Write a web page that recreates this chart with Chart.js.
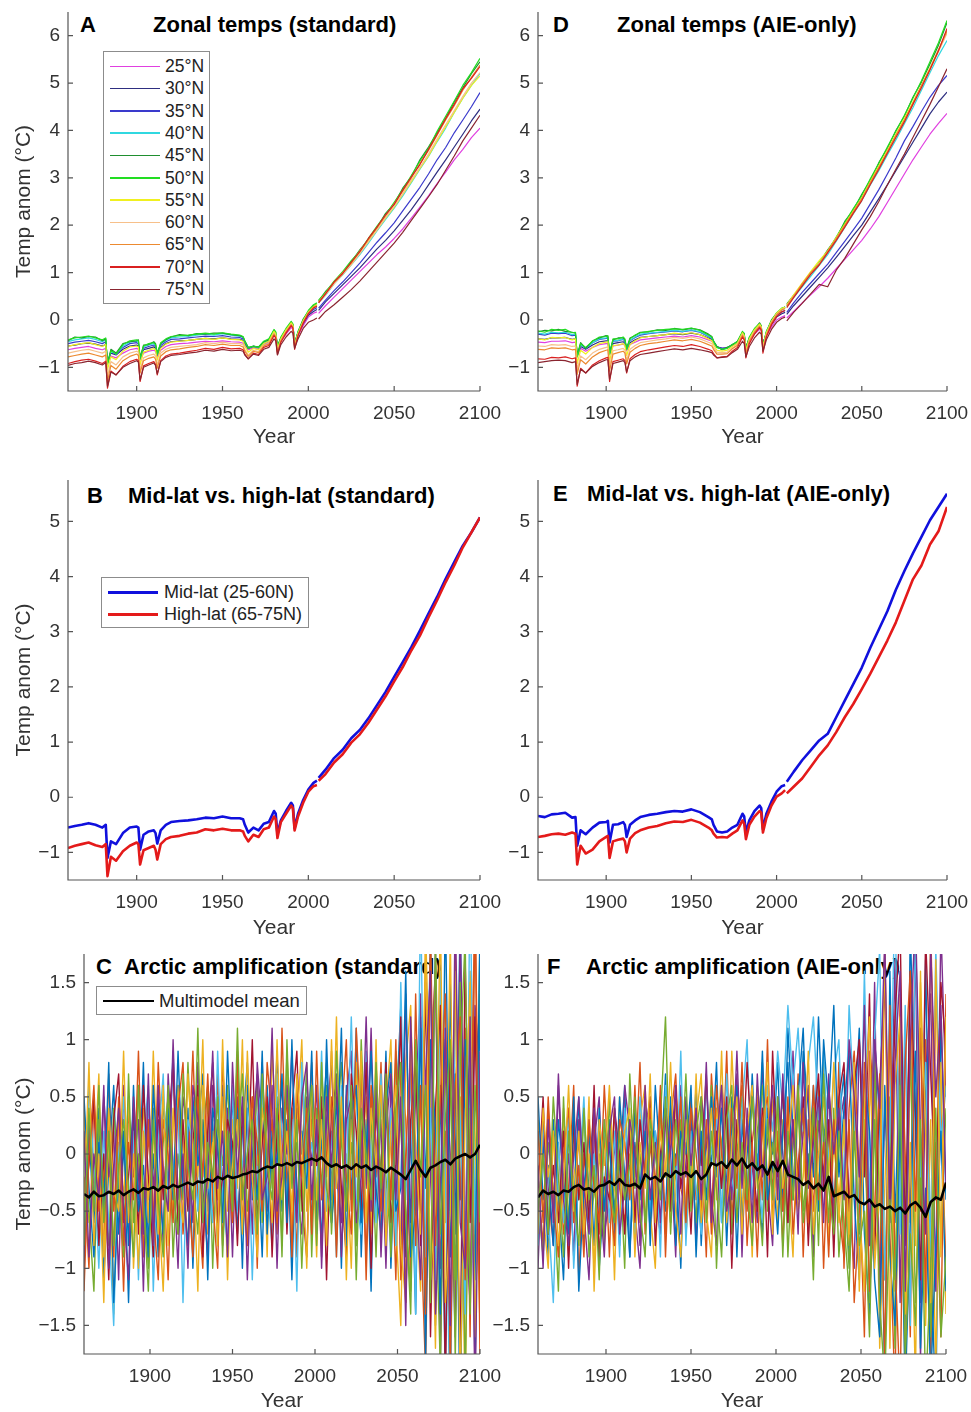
<!DOCTYPE html>
<html>
<head>
<meta charset="utf-8">
<script src="https://cdn.jsdelivr.net/npm/chart.js@4.4.1/dist/chart.umd.min.js"></script>
<style>
html, body { margin: 0; padding: 0; background: #fff; overflow: hidden; width: 971px; height: 1412px; }
.cv { position: absolute; z-index: 1; }
.ttl { position: absolute; z-index: 0; font: bold 22px "Liberation Sans", Arial, sans-serif; line-height: 22px; color: #000; white-space: nowrap; }
.leg { position: absolute; z-index: 2; background: #fff; border: 1px solid #8c8c8c; box-sizing: border-box; }
.leg span { position: absolute; white-space: nowrap; font-family: "Liberation Sans", Arial, sans-serif; color: #222; }
.leg i { position: absolute; display: block; }
</style>
</head>
<body>
<script>
// ---- shared axes ----
const xTicks = [1900, 1950, 2000, 2050, 2100];
const yTicksZonal = [-1, 0, 1, 2, 3, 4, 5, 6];
const yTicksMidHigh = [-1, 0, 1, 2, 3, 4, 5];
const yTicksArctic = [-1.5, -1, -0.5, 0, 0.5, 1, 1.5];

// years for zonal / mid-high panels (a break between 2005 and 2006)
const yearsZ = [
  1860, 1864, 1868, 1872, 1876, 1880, 1882, 1883, 1885, 1888, 1892, 1896,
  1900, 1901, 1902, 1904, 1907, 1910, 1911, 1912, 1914, 1917, 1920, 1925,
  1930, 1935, 1940, 1945, 1950, 1955, 1960, 1962, 1963, 1965, 1968, 1971,
  1974, 1977, 1980, 1981, 1982, 1984, 1987, 1990, 1991, 1992, 1994, 1997, 2000, 2003,
  2005, 2006, 2010, 2015, 2020, 2025, 2030, 2035, 2040, 2045, 2050,
  2055, 2060, 2065, 2070, 2075, 2080, 2085, 2090, 2095, 2100
];
const gapYear = 2005;

const latLabels = ['25°N', '30°N', '35°N', '40°N', '45°N', '50°N', '55°N', '60°N', '65°N', '70°N', '75°N'];
const latColors = ['#e040e0', '#2e2e80', '#3a3acc', '#30d8e0', '#1f8f2f', '#22dd22', '#f0f020', '#f7c08a', '#ec8a30', '#d92020', '#8a2530'];

// ---- A: zonal temps (standard) ----
const a25 = [-0.63,-0.6,-0.58,-0.56,-0.6,-0.63,-0.6,-0.92,-0.76,-0.8,-0.7,-0.63,
  -0.6,-0.62,-0.85,-0.7,-0.66,-0.64,-0.66,-0.78,-0.64,-0.56,-0.52,-0.5,
  -0.49,-0.47,-0.45,-0.46,-0.44,-0.46,-0.47,-0.49,-0.55,-0.63,-0.59,-0.62,
  -0.53,-0.48,-0.32,-0.36,-0.56,-0.45,-0.3,-0.16,-0.19,-0.48,-0.33,-0.12,0.06,0.14,
  0.17,0.14,0.3,0.48,0.66,0.84,1.02,1.2,1.38,1.54,1.72,
  1.92,2.15,2.38,2.62,2.88,3.12,3.38,3.6,3.85,4.05];
const a30 = [-0.55,-0.53,-0.5,-0.49,-0.51,-0.55,-0.52,-0.88,-0.7,-0.74,-0.62,-0.55,
  -0.53,-0.55,-0.8,-0.63,-0.6,-0.57,-0.6,-0.74,-0.58,-0.5,-0.46,-0.44,
  -0.43,-0.41,-0.39,-0.4,-0.38,-0.4,-0.41,-0.43,-0.5,-0.6,-0.56,-0.59,
  -0.5,-0.45,-0.28,-0.32,-0.55,-0.42,-0.26,-0.12,-0.15,-0.47,-0.3,-0.08,0.1,0.18,
  0.22,0.2,0.38,0.56,0.74,0.92,1.1,1.3,1.5,1.68,1.88,
  2.1,2.33,2.58,2.85,3.12,3.38,3.65,3.92,4.2,4.45];
const a35 = [-0.5,-0.47,-0.45,-0.43,-0.46,-0.5,-0.46,-0.9,-0.68,-0.72,-0.58,-0.5,
  -0.48,-0.5,-0.8,-0.6,-0.56,-0.53,-0.57,-0.72,-0.54,-0.46,-0.41,-0.4,
  -0.38,-0.36,-0.34,-0.35,-0.33,-0.36,-0.37,-0.4,-0.48,-0.6,-0.55,-0.58,
  -0.48,-0.43,-0.25,-0.3,-0.56,-0.4,-0.23,-0.08,-0.12,-0.48,-0.27,-0.05,0.13,0.22,
  0.26,0.25,0.42,0.62,0.8,1.0,1.2,1.42,1.64,1.84,2.05,
  2.3,2.55,2.8,3.08,3.38,3.64,3.95,4.22,4.5,4.8];
const a40 = [-0.46,-0.42,-0.4,-0.38,-0.41,-0.46,-0.42,-0.92,-0.66,-0.72,-0.55,-0.47,
  -0.45,-0.47,-0.82,-0.57,-0.53,-0.5,-0.54,-0.72,-0.51,-0.43,-0.38,-0.36,
  -0.35,-0.32,-0.3,-0.32,-0.29,-0.32,-0.34,-0.37,-0.45,-0.58,-0.56,-0.58,
  -0.47,-0.42,-0.23,-0.28,-0.57,-0.38,-0.2,-0.06,-0.1,-0.5,-0.26,-0.02,0.17,0.28,
  0.32,0.36,0.52,0.76,0.95,1.16,1.38,1.62,1.88,2.12,2.36,
  2.62,2.9,3.18,3.45,3.76,4.05,4.38,4.68,4.95,5.2];
const a45 = [-0.44,-0.36,-0.38,-0.35,-0.36,-0.44,-0.4,-0.92,-0.62,-0.7,-0.5,-0.46,
  -0.44,-0.42,-0.8,-0.53,-0.52,-0.46,-0.5,-0.7,-0.5,-0.42,-0.36,-0.31,
  -0.33,-0.29,-0.3,-0.28,-0.28,-0.31,-0.33,-0.36,-0.44,-0.58,-0.56,-0.57,
  -0.46,-0.42,-0.22,-0.26,-0.56,-0.38,-0.2,-0.05,-0.1,-0.52,-0.26,0.02,0.18,0.3,
  0.34,0.4,0.6,0.78,1.0,1.22,1.48,1.7,1.95,2.25,2.45,
  2.78,3.02,3.38,3.65,3.95,4.25,4.6,4.9,5.2,5.45];
const a50 = [-0.42,-0.38,-0.36,-0.34,-0.38,-0.42,-0.38,-0.95,-0.65,-0.72,-0.52,-0.44,
  -0.42,-0.44,-0.82,-0.55,-0.5,-0.48,-0.52,-0.72,-0.48,-0.4,-0.35,-0.33,
  -0.32,-0.3,-0.28,-0.3,-0.27,-0.3,-0.32,-0.35,-0.45,-0.6,-0.55,-0.58,
  -0.45,-0.4,-0.2,-0.25,-0.58,-0.36,-0.18,-0.03,-0.08,-0.5,-0.24,0,0.2,0.32,
  0.36,0.42,0.58,0.82,1.02,1.25,1.45,1.72,1.98,2.22,2.48,
  2.75,3.05,3.35,3.62,3.98,4.3,4.62,4.95,5.22,5.52];
const a55 = [-0.56,-0.52,-0.5,-0.48,-0.52,-0.56,-0.52,-1.05,-0.78,-0.84,-0.66,-0.57,
  -0.55,-0.57,-0.95,-0.68,-0.64,-0.6,-0.64,-0.85,-0.6,-0.51,-0.47,-0.45,
  -0.43,-0.41,-0.39,-0.41,-0.38,-0.41,-0.42,-0.45,-0.55,-0.68,-0.6,-0.63,
  -0.5,-0.45,-0.24,-0.29,-0.62,-0.4,-0.21,-0.06,-0.11,-0.54,-0.28,-0.02,0.17,0.28,
  0.33,0.38,0.55,0.78,0.97,1.18,1.42,1.66,1.9,2.15,2.38,
  2.65,2.92,3.2,3.46,3.78,4.08,4.38,4.68,4.95,5.15];
const a60 = [-0.7,-0.67,-0.64,-0.62,-0.66,-0.7,-0.66,-1.18,-0.88,-0.95,-0.78,-0.7,
  -0.66,-0.68,-1.05,-0.8,-0.75,-0.72,-0.76,-0.95,-0.7,-0.62,-0.58,-0.56,
  -0.54,-0.52,-0.48,-0.5,-0.47,-0.5,-0.5,-0.53,-0.62,-0.74,-0.64,-0.67,
  -0.54,-0.5,-0.28,-0.33,-0.66,-0.43,-0.24,-0.09,-0.14,-0.56,-0.3,-0.04,0.15,0.26,
  0.3,0.36,0.53,0.76,0.96,1.17,1.4,1.65,1.9,2.16,2.4,
  2.66,2.95,3.22,3.5,3.82,4.12,4.42,4.72,5.0,5.22];
const a65 = [-0.78,-0.75,-0.72,-0.7,-0.74,-0.78,-0.74,-1.3,-0.96,-1.04,-0.86,-0.77,
  -0.72,-0.75,-1.12,-0.86,-0.81,-0.78,-0.83,-1.02,-0.76,-0.67,-0.63,-0.61,
  -0.58,-0.56,-0.52,-0.54,-0.51,-0.54,-0.54,-0.57,-0.66,-0.77,-0.66,-0.69,
  -0.55,-0.51,-0.3,-0.35,-0.68,-0.44,-0.25,-0.1,-0.15,-0.58,-0.31,-0.05,0.15,0.27,
  0.3,0.38,0.56,0.8,1.0,1.2,1.46,1.7,1.95,2.2,2.45,
  2.72,3.0,3.3,3.58,3.9,4.22,4.52,4.85,5.12,5.38];
const a70 = [-0.92,-0.88,-0.85,-0.83,-0.87,-0.92,-0.87,-1.44,-1.08,-1.16,-0.98,-0.88,
  -0.83,-0.86,-1.3,-0.97,-0.92,-0.88,-0.94,-1.16,-0.86,-0.76,-0.72,-0.7,
  -0.67,-0.64,-0.6,-0.62,-0.58,-0.61,-0.6,-0.63,-0.72,-0.82,-0.7,-0.73,
  -0.58,-0.54,-0.33,-0.38,-0.73,-0.47,-0.28,-0.12,-0.17,-0.62,-0.33,-0.07,0.13,0.25,
  0.29,0.36,0.55,0.8,0.98,1.22,1.44,1.72,1.96,2.22,2.44,
  2.74,3.02,3.28,3.6,3.92,4.25,4.55,4.88,5.1,5.35];
const a75 = [-0.96,-0.92,-0.9,-0.87,-0.9,-0.95,-0.9,-1.4,-1.1,-1.16,-1.0,-0.92,
  -0.86,-0.89,-1.27,-1.0,-0.95,-0.91,-0.96,-1.14,-0.88,-0.79,-0.75,-0.73,
  -0.7,-0.68,-0.64,-0.66,-0.62,-0.65,-0.64,-0.66,-0.74,-0.82,-0.72,-0.75,
  -0.62,-0.58,-0.4,-0.44,-0.74,-0.52,-0.36,-0.24,-0.28,-0.6,-0.4,-0.18,-0.05,0.0,
  0.04,0.02,0.18,0.32,0.48,0.64,0.82,1.02,1.22,1.42,1.62,
  1.85,2.1,2.35,2.6,2.86,3.16,3.46,3.78,4.05,4.32];

// ---- D: zonal temps (AIE-only) ----
const d25 = [-0.47,-0.48,-0.45,-0.45,-0.44,-0.48,-0.47,-0.78,-0.6,-0.66,-0.58,-0.52,
  -0.5,-0.5,-0.74,-0.55,-0.53,-0.51,-0.54,-0.65,-0.52,-0.47,-0.42,-0.4,
  -0.38,-0.36,-0.34,-0.36,-0.33,-0.36,-0.42,-0.45,-0.5,-0.58,-0.6,-0.6,
  -0.54,-0.5,-0.35,-0.38,-0.57,-0.45,-0.3,-0.2,-0.22,-0.48,-0.33,-0.15,0.0,0.06,
  0.09,0.04,0.18,0.36,0.53,0.7,0.88,1.08,1.28,1.48,1.68,
  1.92,2.18,2.48,2.78,3.08,3.38,3.65,3.92,4.15,4.36];
const d30 = [-0.4,-0.41,-0.38,-0.38,-0.37,-0.41,-0.4,-0.76,-0.56,-0.62,-0.53,-0.46,
  -0.44,-0.44,-0.72,-0.5,-0.48,-0.46,-0.49,-0.62,-0.48,-0.42,-0.37,-0.35,
  -0.33,-0.31,-0.29,-0.31,-0.28,-0.31,-0.38,-0.41,-0.47,-0.57,-0.6,-0.59,
  -0.53,-0.48,-0.31,-0.35,-0.57,-0.42,-0.26,-0.15,-0.18,-0.5,-0.3,-0.1,0.06,0.13,
  0.16,0.12,0.3,0.5,0.7,0.9,1.1,1.32,1.55,1.78,2.0,
  2.28,2.56,2.85,3.15,3.45,3.75,4.05,4.35,4.6,4.81];
const d35 = [-0.3,-0.32,-0.28,-0.29,-0.28,-0.33,-0.32,-0.75,-0.52,-0.6,-0.48,-0.41,
  -0.39,-0.38,-0.7,-0.45,-0.44,-0.41,-0.45,-0.6,-0.44,-0.37,-0.32,-0.29,
  -0.27,-0.25,-0.23,-0.25,-0.22,-0.26,-0.35,-0.39,-0.46,-0.57,-0.6,-0.59,
  -0.52,-0.47,-0.28,-0.33,-0.58,-0.4,-0.23,-0.12,-0.16,-0.52,-0.28,-0.06,0.1,0.17,
  0.2,0.16,0.36,0.58,0.78,0.98,1.18,1.42,1.66,1.9,2.15,
  2.45,2.75,3.08,3.42,3.78,4.08,4.4,4.7,4.95,5.16];
const d40 = [-0.28,-0.3,-0.26,-0.27,-0.26,-0.31,-0.3,-0.78,-0.52,-0.6,-0.48,-0.4,
  -0.38,-0.37,-0.72,-0.44,-0.43,-0.4,-0.44,-0.62,-0.43,-0.36,-0.3,-0.28,
  -0.26,-0.24,-0.22,-0.24,-0.21,-0.25,-0.34,-0.38,-0.46,-0.58,-0.62,-0.6,
  -0.53,-0.47,-0.27,-0.31,-0.59,-0.38,-0.21,-0.1,-0.14,-0.53,-0.26,-0.04,0.12,0.21,
  0.24,0.28,0.47,0.7,0.92,1.15,1.38,1.66,1.95,2.24,2.52,
  2.85,3.15,3.48,3.8,4.14,4.48,4.85,5.22,5.58,5.9];
const d45 = [-0.25,-0.22,-0.23,-0.2,-0.24,-0.26,-0.28,-0.75,-0.48,-0.6,-0.44,-0.38,
  -0.33,-0.35,-0.7,-0.42,-0.38,-0.38,-0.42,-0.6,-0.38,-0.33,-0.26,-0.25,
  -0.21,-0.22,-0.18,-0.21,-0.18,-0.21,-0.3,-0.35,-0.44,-0.56,-0.63,-0.58,
  -0.53,-0.45,-0.26,-0.28,-0.58,-0.38,-0.2,-0.06,-0.12,-0.53,-0.26,0.0,0.14,0.22,
  0.28,0.34,0.52,0.72,1.0,1.2,1.48,1.72,2.08,2.32,2.65,
  2.95,3.32,3.62,4.0,4.3,4.7,5.02,5.4,5.8,6.28];
const d50 = [-0.23,-0.26,-0.2,-0.22,-0.2,-0.27,-0.26,-0.78,-0.5,-0.58,-0.45,-0.36,
  -0.35,-0.33,-0.72,-0.4,-0.4,-0.36,-0.4,-0.62,-0.4,-0.32,-0.27,-0.24,
  -0.22,-0.2,-0.19,-0.2,-0.17,-0.22,-0.32,-0.36,-0.45,-0.58,-0.62,-0.6,
  -0.52,-0.46,-0.24,-0.3,-0.6,-0.36,-0.18,-0.08,-0.13,-0.55,-0.24,-0.02,0.15,0.25,
  0.27,0.3,0.5,0.75,0.98,1.22,1.45,1.75,2.05,2.35,2.62,
  2.98,3.3,3.65,3.98,4.32,4.68,5.05,5.45,5.85,6.32];
const d55 = [-0.4,-0.42,-0.37,-0.38,-0.37,-0.42,-0.4,-0.92,-0.64,-0.72,-0.58,-0.5,
  -0.47,-0.46,-0.88,-0.54,-0.53,-0.5,-0.54,-0.75,-0.52,-0.44,-0.38,-0.35,
  -0.33,-0.31,-0.28,-0.3,-0.27,-0.31,-0.4,-0.44,-0.52,-0.64,-0.66,-0.64,
  -0.56,-0.49,-0.27,-0.33,-0.64,-0.4,-0.21,-0.09,-0.14,-0.57,-0.27,-0.03,0.14,0.24,
  0.27,0.32,0.53,0.78,1.02,1.25,1.46,1.74,2.02,2.3,2.58,
  2.92,3.25,3.58,3.92,4.25,4.6,4.95,5.32,5.7,6.1];
const d60 = [-0.55,-0.56,-0.52,-0.53,-0.52,-0.56,-0.55,-1.05,-0.76,-0.84,-0.7,-0.62,
  -0.58,-0.57,-0.98,-0.65,-0.63,-0.6,-0.64,-0.85,-0.62,-0.54,-0.48,-0.45,
  -0.42,-0.4,-0.37,-0.39,-0.36,-0.4,-0.47,-0.5,-0.58,-0.68,-0.69,-0.68,
  -0.59,-0.52,-0.3,-0.36,-0.68,-0.43,-0.24,-0.12,-0.17,-0.6,-0.3,-0.05,0.12,0.22,
  0.25,0.3,0.5,0.74,0.98,1.2,1.42,1.7,1.98,2.26,2.55,
  2.88,3.2,3.54,3.88,4.2,4.55,4.92,5.28,5.66,6.05];
const d65 = [-0.62,-0.63,-0.59,-0.6,-0.59,-0.63,-0.62,-1.15,-0.84,-0.93,-0.78,-0.69,
  -0.64,-0.63,-1.08,-0.72,-0.69,-0.66,-0.7,-0.93,-0.68,-0.6,-0.54,-0.5,
  -0.48,-0.45,-0.42,-0.44,-0.41,-0.45,-0.52,-0.55,-0.62,-0.72,-0.72,-0.71,
  -0.61,-0.54,-0.32,-0.38,-0.71,-0.45,-0.26,-0.13,-0.18,-0.63,-0.32,-0.06,0.11,0.21,
  0.24,0.3,0.5,0.76,1.0,1.18,1.45,1.72,2.0,2.28,2.56,
  2.9,3.22,3.55,3.9,4.22,4.58,4.95,5.3,5.7,6.1];
const d70 = [-0.82,-0.83,-0.79,-0.8,-0.78,-0.82,-0.8,-1.4,-1.02,-1.12,-0.95,-0.86,
  -0.8,-0.79,-1.3,-0.88,-0.85,-0.82,-0.86,-1.12,-0.82,-0.73,-0.67,-0.63,
  -0.6,-0.57,-0.54,-0.56,-0.52,-0.56,-0.62,-0.65,-0.71,-0.8,-0.78,-0.77,
  -0.66,-0.58,-0.36,-0.42,-0.8,-0.5,-0.3,-0.16,-0.21,-0.7,-0.36,-0.1,0.07,0.17,
  0.2,0.26,0.47,0.72,0.96,1.16,1.42,1.68,1.96,2.25,2.52,
  2.86,3.18,3.52,3.85,4.18,4.55,4.9,5.28,5.68,6.15];
const d75 = [-0.9,-0.88,-0.86,-0.85,-0.86,-0.9,-0.88,-1.36,-1.04,-1.12,-0.98,-0.9,
  -0.84,-0.84,-1.25,-0.92,-0.89,-0.86,-0.9,-1.1,-0.86,-0.78,-0.73,-0.7,
  -0.67,-0.64,-0.61,-0.63,-0.6,-0.63,-0.67,-0.69,-0.74,-0.8,-0.79,-0.78,
  -0.69,-0.62,-0.45,-0.5,-0.78,-0.56,-0.38,-0.26,-0.3,-0.66,-0.42,-0.2,-0.05,0.03,
  0.06,-0.02,0.16,0.35,0.55,0.75,0.7,1.05,1.3,1.6,1.9,
  2.18,2.5,2.85,3.18,3.5,3.85,4.2,4.55,4.92,5.3];

// ---- B / E: mid-lat vs high-lat ----
const mhLabels = ['Mid-lat (25-60N)', 'High-lat (65-75N)'];
const mhColors = ['#1010dd', '#e41a1a'];
const bMid = [-0.55,-0.52,-0.5,-0.47,-0.5,-0.55,-0.5,-1.1,-0.8,-0.85,-0.65,-0.55,
  -0.53,-0.55,-0.95,-0.68,-0.62,-0.6,-0.65,-0.84,-0.6,-0.5,-0.45,-0.43,
  -0.42,-0.4,-0.37,-0.38,-0.35,-0.38,-0.38,-0.4,-0.5,-0.64,-0.55,-0.6,
  -0.48,-0.45,-0.25,-0.3,-0.66,-0.42,-0.25,-0.1,-0.15,-0.56,-0.3,-0.05,0.14,0.26,
  0.3,0.35,0.5,0.71,0.86,1.07,1.22,1.43,1.67,1.91,2.18,
  2.45,2.72,3.02,3.33,3.63,3.96,4.26,4.56,4.8,5.07];
const bHigh = [-0.92,-0.88,-0.85,-0.82,-0.87,-0.9,-0.85,-1.43,-1.08,-1.15,-0.98,-0.88,
  -0.82,-0.85,-1.22,-0.96,-0.92,-0.88,-0.95,-1.13,-0.85,-0.76,-0.72,-0.7,
  -0.66,-0.64,-0.58,-0.6,-0.57,-0.6,-0.6,-0.62,-0.7,-0.8,-0.68,-0.72,
  -0.58,-0.55,-0.35,-0.4,-0.74,-0.45,-0.3,-0.15,-0.2,-0.6,-0.35,-0.1,0.1,0.2,
  0.22,0.3,0.42,0.63,0.78,0.99,1.14,1.35,1.59,1.83,2.1,
  2.36,2.66,2.93,3.26,3.57,3.9,4.2,4.53,4.8,5.07];
const eMid = [-0.34,-0.36,-0.31,-0.3,-0.28,-0.37,-0.36,-0.88,-0.6,-0.67,-0.55,-0.46,
  -0.45,-0.43,-0.82,-0.5,-0.49,-0.45,-0.5,-0.72,-0.5,-0.42,-0.36,-0.32,
  -0.3,-0.27,-0.25,-0.26,-0.22,-0.27,-0.36,-0.4,-0.5,-0.62,-0.64,-0.62,
  -0.55,-0.5,-0.3,-0.35,-0.64,-0.42,-0.25,-0.15,-0.2,-0.58,-0.3,-0.08,0.1,0.2,
  0.22,0.28,0.46,0.67,0.85,1.03,1.15,1.45,1.75,2.05,2.35,
  2.71,3.04,3.37,3.76,4.1,4.42,4.72,5.02,5.26,5.5];
const eHigh = [-0.72,-0.7,-0.67,-0.66,-0.68,-0.64,-0.66,-1.22,-0.88,-1.02,-0.95,-0.8,
  -0.72,-0.7,-1.1,-0.8,-0.77,-0.75,-0.8,-1.0,-0.75,-0.65,-0.6,-0.55,
  -0.52,-0.47,-0.44,-0.45,-0.41,-0.46,-0.55,-0.6,-0.66,-0.73,-0.72,-0.73,
  -0.66,-0.6,-0.42,-0.48,-0.76,-0.5,-0.35,-0.25,-0.28,-0.64,-0.38,-0.15,0.01,0.07,
  0.13,0.07,0.19,0.34,0.55,0.76,0.94,1.18,1.45,1.69,1.96,
  2.24,2.54,2.84,3.17,3.56,3.95,4.2,4.58,4.82,5.26];

// ---- C / F: Arctic amplification, individual models + mean ----
const yearsA = [
  1860,1863,1866,1869,1872,1875,1878,1881,1884,1887,1890,1893,1896,1899,
  1902,1905,1908,1911,1914,1917,1920,1923,1926,1929,1932,1935,1938,1941,1944,1947,
  1950,1953,1956,1959,1962,1965,1968,1971,1974,1977,1980,1983,1986,1989,1992,1995,1998,
  2001,2004,2007,2010,2013,2016,2019,2022,2025,2028,2031,2034,2037,
  2040,2043,2046,2049,2052,2055,2058,2061,2064,2067,2070,2073,2076,2079,2082,2085,2088,2091,2094,2097,2100
];
const modelColors = ['#0072bd', '#d95319', '#edb120', '#7e2f8e', '#77ac30', '#4dbeee', '#a2142f'];

const c1 = [-0.9,0.2,-0.6,0.4,-1.1,-0.1,0.6,-0.7,0.1,-1.3,0.3,-0.4,0.8,-0.8,
  0.0,-0.9,0.5,-0.3,0.9,-0.6,-0.1,0.4,-1.0,0.2,0.7,-0.5,0.3,-0.8,0.6,-0.2,
  0.5,-0.7,0.2,0.8,-0.4,0.1,-0.9,0.6,-0.2,0.9,-0.5,0.3,-1.1,0.4,0.0,0.7,-0.6,
  0.2,-0.8,1.0,-0.3,0.5,-1.0,0.6,-0.4,1.1,-0.9,0.3,-1.2,0.8,
  -0.4,0.9,-1.0,0.3,1.3,-0.9,0.2,-1.4,1.2,-0.3,1.9,-1.5,0.6,-2.0,1.5,-0.7,2.1,-1.2,0.9,-1.9,1.4];
const c2 = [-0.2,-1.0,0.5,-0.3,-0.8,0.7,-0.5,0.1,-1.2,0.4,-0.2,0.6,-0.9,0.2,
  -0.6,0.8,-0.1,-1.1,0.3,0.6,-0.7,-0.2,0.9,-0.4,-1.0,0.5,-0.3,0.7,-0.8,0.1,
  -0.3,0.9,-0.6,0.0,0.5,-1.0,0.8,-0.2,0.3,-0.7,1.1,-0.3,0.4,-0.9,0.6,-0.1,0.8,
  -0.6,0.4,-0.2,0.9,-0.8,0.3,1.0,-0.5,-0.1,0.7,-1.1,0.5,-0.2,
  0.8,-0.6,0.2,-1.1,0.8,0.3,-1.1,1.4,-0.6,-1.9,0.8,1.6,-1.0,0.2,-2.1,1.8,-0.4,1.1,-1.6,2.2,-0.8];
const c3 = [0.4,-0.6,-0.2,0.7,-0.9,0.1,-1.4,0.3,-0.4,0.5,-1.0,-0.1,0.4,-0.6,
  0.9,-0.4,-1.2,0.2,-0.5,0.6,0.1,-0.9,0.4,-0.2,1.0,-0.7,0.2,-0.4,0.5,-1.1,
  0.3,-0.3,1.0,-0.8,0.4,-0.1,0.6,-0.9,0.9,0.1,-0.4,0.7,-0.7,0.2,1.0,-0.5,0.3,
  -0.9,0.7,0.1,-0.4,1.2,-0.6,0.0,-1.0,0.8,-0.2,0.5,-0.7,1.0,
  -0.8,0.4,1.0,-0.6,-1.5,0.8,1.3,-0.4,-1.2,2.0,0.3,-1.7,1.2,-0.6,1.9,-1.4,0.5,-2.2,1.6,0.2,-1.5];
const c4 = [-1.0,0.3,-0.4,-0.7,0.5,-0.2,0.2,-1.1,0.6,-0.5,-0.1,0.3,-1.2,0.5,
  -0.3,0.3,-0.8,0.7,-0.1,-1.0,0.5,0.2,-0.6,0.8,-0.3,-0.9,0.6,0.0,-0.5,0.4,
  -0.9,0.5,-0.2,0.3,-0.7,0.8,0.2,-0.5,0.6,-1.0,0.4,0.0,0.9,-0.3,-0.7,0.5,-0.1,
  0.6,-1.0,0.3,0.8,-0.2,-0.6,0.5,0.9,-0.8,0.2,-0.3,1.1,-0.5,
  0.3,-1.0,0.6,0.1,-0.9,1.4,-0.6,0.5,1.4,-1.3,-0.2,1.8,-1.8,0.8,0.0,-1.6,2.0,-0.5,-1.3,1.3,0.7];
const c5 = [0.1,-0.5,-1.2,0.3,-0.3,-0.8,0.4,-0.2,-0.9,0.7,-0.6,0.0,-0.3,-1.0,
  0.4,-0.6,0.1,0.5,-0.9,0.0,-0.4,0.8,-0.2,-0.7,0.2,0.6,-1.0,0.3,-0.1,0.6,
  -0.4,0.1,0.7,-0.5,-0.1,0.6,-0.6,0.4,-0.3,0.5,-0.8,0.9,-0.2,0.1,-0.5,0.8,-0.9,
  0.4,-0.3,0.6,-0.7,0.2,0.8,-0.4,0.1,-0.8,1.0,-0.1,0.3,-0.9,
  0.5,-0.2,-0.8,0.9,0.2,-0.5,-1.2,0.9,0.5,-1.0,1.7,-0.3,-1.9,1.0,0.6,-1.1,1.5,-2.0,0.4,-0.9,1.9];
const c6 = [-0.7,0.6,-0.1,-1.0,0.2,-0.6,-1.5,0.0,0.5,-0.7,0.2,-1.1,0.1,0.6,
  -1.2,0.1,0.7,-0.5,-0.2,0.4,-1.3,0.3,0.1,-0.5,0.5,-0.1,-0.6,0.9,-0.4,-0.8,
  0.6,-0.5,-0.1,0.4,-1.1,0.3,0.6,-0.3,-0.8,0.7,0.2,-0.4,0.3,-1.2,0.8,-0.2,0.1,
  -0.3,0.9,-0.5,0.2,-0.9,0.6,-0.2,1.2,-0.4,-0.7,0.9,0.0,-0.6,
  0.7,-0.6,0.4,-0.8,1.5,-0.4,0.7,-1.4,2.3,-0.9,0.4,-1.1,1.6,-0.2,-2.3,1.3,0.3,-1.4,2.4,-0.7,0.9];
const c7 = [-0.4,-0.1,0.5,-0.8,0.0,-1.1,0.3,0.7,-0.6,-0.2,0.4,-0.7,0.6,-0.2,
  -0.9,0.5,-0.4,0.2,0.8,-0.7,0.3,-0.5,0.1,0.6,-0.9,0.2,0.8,-0.6,-0.2,0.3,
  0.1,-0.8,0.4,-0.3,1.0,-0.6,0.1,0.5,-0.9,0.2,0.6,-0.7,0.4,0.9,-0.4,-0.9,0.5,
  -0.1,0.5,-1.1,0.4,0.6,-0.3,-0.9,0.7,0.2,-0.5,0.8,-1.0,0.4,
  -0.2,0.8,-0.6,-0.1,1.2,-1.3,0.3,0.8,-0.8,1.5,-1.6,0.4,1.3,-2.0,0.9,0.1,-1.7,1.7,-0.6,1.2,-1.2];
const c8 = [0.5,-0.3,-0.9,0.1,-0.5,0.8,-1.3,-0.3,0.2,-0.8,0.6,-0.5,-0.1,-0.9,
  0.6,-0.2,-0.7,0.4,-0.4,0.9,-0.3,-0.8,0.5,-0.1,0.3,-1.1,0.4,0.1,-0.6,0.9,
  -0.2,0.4,-1.0,0.6,0.0,-0.4,0.9,-0.7,0.2,-0.1,0.7,-0.6,1.0,-0.5,0.2,-0.3,0.9,
  -0.7,0.1,0.8,-0.6,-0.1,1.1,-0.8,0.3,0.6,-0.6,-0.1,0.9,-0.3,
  -0.7,0.4,0.8,-0.5,-0.3,1.6,-0.9,-0.5,1.1,-1.8,1.0,0.2,-1.4,2.2,-0.9,0.7,-2.4,1.0,0.5,-1.1,2.0];
const c9 = [-1.2,0.0,0.6,-0.5,-0.2,0.3,-0.9,0.5,-0.8,0.1,-0.4,0.9,-0.6,0.3,
  -0.5,-1.1,0.3,0.0,-0.6,0.4,0.8,-0.3,-0.9,0.5,-0.2,0.7,-0.4,-1.0,0.8,0.0,
  -0.6,0.7,-0.3,-0.8,0.5,0.1,-0.5,0.8,0.3,-0.6,0.0,0.5,-0.9,0.6,-0.2,0.4,-0.7,
  0.9,-0.4,0.0,0.5,-0.9,0.4,-0.2,-0.7,1.1,0.2,-0.9,0.6,0.1,
  -0.5,0.6,-0.4,1.0,-1.1,0.0,0.9,-0.8,0.6,-1.4,2.0,-0.8,0.5,1.4,-1.9,0.6,1.2,-1.1,-0.2,2.3,-1.8];
const c10 = [-0.5,0.8,-0.8,0.0,-1.3,0.4,-0.3,-0.5,0.9,-0.6,0.0,-1.0,0.2,-0.4,
  0.2,-0.7,0.6,-0.8,0.4,-0.3,-0.6,0.7,0.0,-1.2,0.6,-0.3,0.1,-0.8,1.0,-0.5,
  -0.1,0.3,-0.7,0.9,-0.2,-0.9,0.4,0.1,-0.6,1.0,-0.3,0.2,-0.5,0.7,0.1,-1.0,0.6,
  -0.4,0.3,-0.8,1.0,-0.3,0.5,-1.1,0.3,-0.2,0.9,-0.6,0.4,-0.1,
  0.6,-0.8,0.2,0.6,-0.8,-1.3,1.1,0.1,-0.7,1.8,-1.1,-0.4,2.1,-1.3,-0.5,1.6,-2.1,0.3,1.5,-1.6,0.4];
const c11 = [0.2,-0.9,0.0,-0.4,0.6,-1.0,-0.1,0.4,-0.5,-1.1,0.5,-0.2,-0.7,0.7,
  -0.8,0.6,-0.2,-0.5,1.0,-0.4,0.0,-1.0,0.6,0.3,-0.6,-0.2,0.9,-0.3,0.2,-0.9,
  0.8,-0.2,0.5,-1.1,0.2,0.7,-0.4,-0.2,1.1,-0.5,-0.2,0.6,0.0,-0.6,0.5,0.8,-0.4,
  0.3,-0.9,0.5,-0.1,0.7,-0.9,0.3,0.5,-0.6,-0.2,1.2,-0.5,0.6,
  -0.9,0.2,0.7,-0.4,0.5,-1.5,1.2,-0.2,-1.1,0.7,1.6,-1.4,-0.3,1.1,-1.5,2.2,-0.6,-1.0,1.2,-2.2,0.9];
const c12 = [-0.8,0.4,-0.5,0.6,-0.6,0.2,-0.8,-0.1,0.3,-0.3,-0.9,0.6,-0.4,-1.2,
  0.3,-0.4,-0.9,0.6,-0.3,-0.7,0.7,-0.1,-0.4,1.1,-0.6,0.1,-0.2,0.5,-0.9,0.2,
  -0.5,1.1,-0.4,0.0,0.3,-0.7,0.7,-0.1,-0.4,0.4,-0.9,1.0,-0.3,0.3,-1.0,0.2,0.6,
  -0.8,0.8,-0.3,-0.6,0.9,0.1,-0.5,0.6,-1.1,0.4,0.0,-0.4,0.8,
  -0.3,0.7,-0.9,0.4,0.8,-0.5,-1.4,1.0,-0.2,0.6,-1.3,1.9,-0.7,0.3,1.0,-1.8,0.8,1.9,-1.4,0.6,-0.6];
const meanC = [-0.35,-0.38,-0.33,-0.37,-0.36,-0.33,-0.35,-0.32,-0.36,-0.33,-0.31,-0.34,-0.3,-0.31,
  -0.29,-0.32,-0.28,-0.3,-0.27,-0.29,-0.27,-0.25,-0.27,-0.24,-0.25,-0.22,-0.24,-0.2,-0.22,-0.19,
  -0.21,-0.2,-0.18,-0.17,-0.15,-0.16,-0.13,-0.11,-0.12,-0.09,-0.1,-0.08,-0.1,-0.07,-0.08,-0.06,-0.04,
  -0.06,-0.03,-0.08,-0.11,-0.09,-0.12,-0.1,-0.13,-0.09,-0.12,-0.1,-0.14,-0.11,
  -0.13,-0.16,-0.12,-0.15,-0.18,-0.22,-0.14,-0.06,-0.14,-0.2,-0.12,-0.1,-0.07,-0.05,-0.09,-0.04,-0.02,0.0,-0.03,0.0,0.08];

const f1 = [-0.6,0.1,-0.9,0.3,-0.4,-1.1,0.2,-0.5,0.5,-0.8,-0.2,0.4,-1.0,-0.3,
  0.3,-0.7,-0.1,0.6,-0.9,0.1,-0.4,0.5,-0.8,0.2,-0.2,0.7,-0.6,0.0,-1.0,0.4,
  -0.3,0.6,-0.8,0.2,-0.1,0.8,-0.6,-0.2,0.5,-0.9,0.3,-0.4,0.7,-0.2,-0.7,0.4,0.0,
  0.8,-0.5,1.1,0.2,-0.3,0.9,0.4,-0.2,1.2,0.1,0.6,-0.5,0.3,
  0.7,-0.9,0.3,1.1,-0.7,-1.4,1.0,0.3,-2.0,1.6,-0.6,0.9,-1.8,2.0,0.2,-1.3,1.7,-0.9,-2.2,1.2,-0.4];
const f2 = [-0.2,-0.8,0.4,-0.5,0.1,-0.7,-0.3,0.6,-1.1,0.0,-0.5,0.3,-0.7,0.2,
  -0.9,0.4,-0.3,-0.6,0.3,-0.2,0.8,-0.7,0.1,-0.4,0.6,-0.9,0.3,0.7,-0.3,-0.5,
  0.5,-0.4,0.1,-0.9,0.7,0.0,-0.3,0.9,-0.6,0.2,0.6,-0.8,0.1,0.5,-0.4,1.0,-0.6,
  0.2,-0.8,0.4,-0.4,0.7,-0.9,0.3,-0.5,0.6,-1.0,0.2,-0.6,0.8,
  -1.0,0.4,0.9,-0.2,-1.6,0.9,0.5,-1.2,1.8,-0.7,-2.1,1.4,0.0,-1.6,2.1,-0.5,1.0,-1.9,1.5,0.4,-1.0];
const f3 = [0.3,-0.5,-1.0,0.2,-0.6,0.4,-0.9,-0.2,0.1,-0.6,0.5,-1.2,0.0,-0.4,
  0.2,-1.1,0.5,-0.3,0.0,-0.8,0.3,0.6,-0.5,-1.0,0.4,-0.1,-0.6,0.5,0.1,-0.7,
  -0.2,0.3,0.7,-0.5,-0.9,0.4,0.1,-0.6,0.9,-0.1,-0.5,0.3,-0.9,0.6,0.2,-0.3,0.5,
  -0.6,0.3,-0.2,-0.9,0.5,0.1,-0.7,0.4,-0.3,0.8,-0.8,0.1,-0.4,
  0.2,-0.8,0.6,-0.5,-1.2,0.4,1.0,-1.7,-0.3,1.1,-1.2,0.5,-2.0,0.9,-0.8,1.6,-1.5,0.3,-1.9,0.8,-1.4];
const f4 = [-1.0,0.2,-0.3,-0.8,0.6,-0.4,0.0,-0.9,0.3,-0.5,-1.1,0.1,0.5,-0.7,
  -0.4,0.1,-0.8,0.6,0.2,-0.5,-1.0,0.2,0.5,-0.4,-0.7,0.3,0.0,-0.9,0.6,-0.2,
  0.3,-0.8,0.5,0.1,-0.4,-0.8,0.6,0.2,-0.4,0.7,-0.9,0.4,-0.1,-0.6,0.8,-0.3,-0.8,
  0.5,0.0,-0.6,0.9,-0.4,0.2,0.6,-0.9,0.3,-0.2,0.7,-0.7,0.2,
  0.5,-0.4,-1.0,1.0,0.1,-0.8,1.5,-1.3,0.4,-0.4,1.7,-1.3,1.1,-0.6,1.9,-1.8,0.7,1.4,-1.2,2.0,0.5];
const f5 = [-0.4,-0.9,0.1,-0.3,-1.2,0.5,-0.6,0.2,-0.4,0.4,-0.9,-0.3,0.2,-0.8,
  0.5,-0.5,0.0,-1.0,0.7,-0.3,0.0,-0.6,0.2,-0.5,0.3,1.2,-0.4,-0.2,0.3,-0.6,
  0.0,-0.6,0.4,-0.2,0.6,-1.0,0.1,0.4,-0.7,0.0,0.5,-0.3,-0.8,0.2,0.6,-0.5,0.1,
  -0.3,0.6,-0.9,0.1,0.4,-0.5,0.0,-1.1,0.5,0.2,-0.6,0.4,-0.9,
  -0.2,-1.0,0.5,-0.7,0.3,-1.3,0.8,-0.4,-1.1,0.5,-1.7,0.2,-0.6,1.0,-1.3,-0.2,0.8,-1.6,0.1,-0.7,0.4];
const f6 = [-0.8,0.3,-0.5,-1.3,0.1,-0.6,0.4,-1.0,-0.2,0.5,-0.7,0.0,-0.5,0.3,
  -0.6,0.2,-0.9,0.4,-0.3,-0.7,0.5,-0.1,-0.5,0.2,-0.9,0.6,-0.2,-0.4,0.9,-0.8,
  0.2,-0.3,-0.7,0.6,0.0,0.3,-0.6,0.7,-0.2,-0.5,0.4,1.0,-0.4,0.0,-0.6,0.6,0.2,
  0.9,0.4,1.3,0.6,1.1,0.2,0.8,1.2,0.3,0.9,-0.1,0.7,1.0,
  -0.3,1.3,0.4,-0.6,1.6,-0.4,1.0,1.8,-1.1,0.2,2.3,-0.7,1.3,-1.5,2.0,-0.2,0.8,-0.9,1.8,0.1,0.6];
const f7 = [-0.3,0.5,-0.7,-0.1,-0.6,0.2,-1.0,0.3,-0.4,0.1,-0.6,0.6,-0.9,-0.2,
  -0.4,0.4,0.0,-0.7,0.2,-0.6,0.3,-0.2,0.5,-0.8,0.0,0.4,-0.5,0.6,-0.3,0.1,
  -0.7,0.4,-0.1,0.7,-0.5,0.2,-0.3,0.5,-1.0,0.3,-0.2,0.8,0.0,-0.5,0.4,-0.9,0.9,
  -0.2,0.6,-0.6,0.3,-0.2,0.5,-0.8,0.2,0.7,-0.3,0.3,-0.9,0.5,
  0.8,-0.5,0.6,1.0,-0.2,1.4,-0.9,0.6,1.5,-0.5,1.2,2.0,-0.8,1.6,0.4,-1.1,1.9,0.7,-0.4,1.5,0.9];
const f8 = [0.5,-0.4,-0.1,-0.8,0.3,-0.2,-0.7,0.5,-1.2,-0.3,0.2,-0.8,0.4,-0.5,
  0.1,-0.6,0.5,-0.2,-0.9,0.4,-0.3,0.2,-0.7,0.6,-0.1,-0.5,0.5,-0.8,0.2,0.0,
  0.6,-0.9,0.2,-0.4,0.5,-0.2,0.4,-0.8,0.3,0.6,-0.6,0.0,0.5,-0.2,0.9,-0.4,-0.1,
  -0.7,0.2,0.8,-0.4,0.5,1.1,-0.2,0.6,-0.5,1.0,0.4,1.3,-0.2,
  0.4,0.9,-0.4,-1.1,0.7,0.2,-1.1,-1.6,0.6,-0.9,-1.5,0.3,-2.1,-0.6,0.9,-1.7,-0.3,-2.0,-0.8,0.2,-1.2];
const f9 = [0.2,-0.6,0.5,-0.4,-0.9,0.0,0.4,-0.6,-0.1,-0.9,0.3,-0.3,-0.6,0.6,
  -0.3,-0.8,0.3,0.1,-0.4,0.6,-0.6,-0.1,0.4,-0.3,0.5,-0.7,0.2,-0.1,0.5,-0.6,
  0.4,0.0,-0.5,0.3,-0.7,0.6,0.0,-0.4,0.4,-0.3,0.8,-0.5,0.1,-0.9,0.3,0.5,-0.3,
  0.1,-0.5,0.5,-0.7,-0.1,0.4,-0.6,0.6,-0.4,0.1,-0.9,0.3,-0.5,
  -0.9,0.3,-1.3,-0.5,0.8,-1.2,-0.5,0.7,-1.9,1.3,-0.9,-2.1,0.8,1.6,-0.5,1.1,-1.3,2.0,-0.2,-1.6,1.4];
const f10 = [-0.7,0.4,-0.2,0.2,-0.8,-0.3,0.6,-0.5,0.2,-0.7,0.0,-1.0,0.3,-0.1,
  0.6,-0.3,-0.6,0.2,0.4,-0.9,0.1,-0.3,0.7,-0.6,0.2,-0.2,0.8,-0.5,-0.9,0.3,
  -0.4,0.7,-0.6,-0.1,0.4,-0.4,0.9,-0.6,0.1,0.5,-0.7,0.2,0.6,-0.3,-0.1,0.8,-0.7,
  0.4,-0.3,0.1,0.6,-0.5,-0.2,0.9,-0.7,0.0,0.5,-0.2,0.8,-0.6,
  0.3,-0.7,0.8,-1.2,0.4,1.2,-1.0,-0.3,1.8,-1.7,0.6,1.2,-1.4,0.1,-2.0,1.5,0.2,-1.3,1.7,-0.9,1.2];
const f11 = [-0.1,-1.0,0.3,-0.6,0.7,-0.4,-0.8,0.0,0.5,-0.3,-0.7,0.4,-0.3,-0.9,
  0.2,0.5,-0.7,-0.3,0.3,0.0,-0.8,0.6,-0.4,0.1,-0.6,0.4,0.0,0.6,-0.7,0.5,
  -0.1,0.4,-0.4,0.8,-0.6,0.1,0.6,-0.5,-0.2,0.9,-0.3,0.3,-0.6,0.7,-0.2,0.1,0.6,
  -0.4,0.7,-0.2,0.3,-0.7,0.8,-0.3,0.1,0.5,-0.6,0.6,0.0,0.4,
  -0.4,1.0,0.5,-0.2,1.3,-0.8,1.0,0.4,1.9,-0.6,0.8,1.6,-1.2,1.0,2.1,0.2,-0.7,1.8,0.5,1.3,-0.3];
const f12 = [-0.5,0.0,-0.7,0.5,-0.2,-0.9,0.2,-0.4,-0.8,0.4,-0.4,-0.1,-1.1,0.3,
  -0.2,-0.6,0.2,-0.4,-0.1,0.5,-0.5,-0.9,0.3,0.0,-0.4,0.5,-0.7,0.3,-0.2,0.7,
  -0.5,0.2,0.5,-0.6,0.2,-0.3,-0.9,0.3,0.6,-0.6,0.1,-0.4,0.5,-0.2,-0.8,0.3,-0.4,
  0.5,-0.9,0.2,-0.4,0.6,-0.6,-0.2,0.4,-0.8,0.7,-0.3,-0.7,0.2,
  -0.6,-1.2,0.2,-0.8,-0.5,-1.6,0.3,-1.3,-2.0,-0.4,-1.1,0.6,-1.8,-0.7,-1.5,0.3,-2.1,-1.0,0.4,-1.6,-0.9];
const meanF = [-0.38,-0.32,-0.35,-0.33,-0.36,-0.32,-0.33,-0.29,-0.27,-0.31,-0.3,-0.33,-0.28,-0.27,
  -0.24,-0.27,-0.22,-0.27,-0.28,-0.26,-0.3,-0.18,-0.22,-0.2,-0.24,-0.17,-0.2,-0.15,-0.18,-0.16,
  -0.2,-0.15,-0.22,-0.18,-0.08,-0.1,-0.07,-0.12,-0.05,-0.1,-0.04,-0.12,-0.08,-0.14,-0.1,-0.18,-0.07,
  -0.15,-0.06,-0.18,-0.2,-0.22,-0.27,-0.24,-0.3,-0.26,-0.32,-0.2,-0.37,-0.35,
  -0.33,-0.38,-0.36,-0.42,-0.44,-0.4,-0.46,-0.44,-0.48,-0.46,-0.5,-0.47,-0.52,-0.45,-0.42,-0.47,-0.55,-0.42,-0.38,-0.4,-0.25];

// ---- drawing ----
const FONT = '"Liberation Sans", Arial, Helvetica, sans-serif';
const AXIS = '#555';
const TXT = '#333';
Chart.defaults.font.family = FONT;
Chart.defaults.color = TXT;

const fmt = v => (v < 0 ? '\u2212' + Math.abs(v) : String(v));
const pts = (xs, ys) => xs.map((x, i) => ({ x: x, y: ys[i] }));
const gapSeg = { borderColor: c => (c.p0.parsed.x === gapYear ? 'rgba(0,0,0,0)' : undefined) };

// MATLAB style: left/bottom axis only, ticks pointing inward
const inwardAxes = {
  id: 'inwardAxes',
  afterDatasetsDraw(chart) {
    const { ctx, chartArea: a, scales: { x, y } } = chart;
    ctx.save();
    ctx.strokeStyle = AXIS;
    ctx.lineWidth = 1.2;
    ctx.beginPath();
    ctx.moveTo(a.left, a.top);
    ctx.lineTo(a.left, a.bottom);
    ctx.lineTo(a.right, a.bottom);
    x.ticks.forEach(t => { const p = x.getPixelForValue(t.value); ctx.moveTo(p, a.bottom); ctx.lineTo(p, a.bottom - 5); });
    y.ticks.forEach(t => { const p = y.getPixelForValue(t.value); ctx.moveTo(a.left, p); ctx.lineTo(a.left + 5, p); });
    ctx.stroke();
    ctx.restore();
  }
};

function panel(p) {
  const padTop = 22, padRight = 36;
  const w = (p.R - p.L) + p.yW + padRight;
  const hExact = padTop + (p.B - p.T) + p.xH;
  const h = Math.ceil(hExact);
  const cv = document.createElement('canvas');
  cv.className = 'cv';
  cv.width = w; cv.height = h;
  cv.style.left = (p.L - p.yW) + 'px';
  cv.style.top = (p.T - padTop) + 'px';
  cv.style.width = w + 'px'; cv.style.height = h + 'px';
  document.body.appendChild(cv);
  new Chart(cv, {
    type: 'line',
    data: { datasets: p.datasets },
    options: {
      responsive: false, animation: false, events: [],
      layout: { padding: { top: padTop, right: padRight, left: 0, bottom: h - hExact } },
      plugins: { legend: { display: false }, tooltip: { enabled: false } },
      elements: { point: { radius: 0 }, line: { tension: 0, borderJoinStyle: 'round' } },
      scales: {
        x: {
          type: 'linear', min: 1860, max: 2100,
          afterBuildTicks: s => { s.ticks = xTicks.map(v => ({ value: v })); },
          afterFit: s => { s.height = p.xH; },
          grid: { display: false, drawTicks: false }, border: { display: false },
          ticks: { font: { size: 19 }, color: TXT, padding: 11, maxRotation: 0, autoSkip: false, callback: v => String(v) },
          title: { display: true, text: 'Year', font: { size: 21, lineHeight: 1 }, color: TXT, padding: 0 }
        },
        y: {
          type: 'linear', min: p.ymin, max: p.ymax,
          afterBuildTicks: s => { s.ticks = p.yTicks.map(v => ({ value: v })); },
          afterFit: s => { s.width = p.yW; },
          grid: { display: false, drawTicks: false }, border: { display: false },
          ticks: { font: { size: 19 }, color: TXT, padding: 8, autoSkip: false, callback: v => fmt(v) },
          title: { display: p.yTitle, text: 'Temp anom (\u00B0C)', font: { size: 21, lineHeight: 1 }, color: TXT, padding: { top: 13.5, bottom: 0 } }
        }
      }
    },
    plugins: [inwardAxes]
  });
}

function title(letter, lx, text, tx, top) {
  [[letter, lx], [text, tx]].forEach(([s, x]) => {
    const d = document.createElement('div');
    d.className = 'ttl';
    d.textContent = s;
    d.style.left = x + 'px';
    d.style.top = top + 'px';
    document.body.appendChild(d);
  });
}

function legend(b, items) {
  const d = document.createElement('div');
  d.className = 'leg';
  Object.assign(d.style, { left: b.x + 'px', top: b.y + 'px', width: b.w + 'px', height: b.h + 'px' });
  items.forEach((it, k) => {
    const cy = b.row0 + k * b.rowH - b.y - 1;
    const ln = document.createElement('i');
    Object.assign(ln.style, { left: (b.l1 - b.x - 1) + 'px', width: (b.l2 - b.l1) + 'px', top: (cy - b.lw / 2) + 'px', height: b.lw + 'px', background: it.color });
    const tx = document.createElement('span');
    tx.textContent = it.label;
    Object.assign(tx.style, { left: (b.tx - b.x - 1) + 'px', top: (cy - 0.5885 * b.fs) + 'px', fontSize: b.fs + 'px', lineHeight: (1.2 * b.fs) + 'px' });
    d.appendChild(ln); d.appendChild(tx);
  });
  document.body.appendChild(d);
}

const zonalSets = series => series.map((s, i) => ({
  label: latLabels[i], data: pts(yearsZ, s), borderColor: latColors[i], borderWidth: 1.2, order: -i, segment: gapSeg
}));
const mhSets = (mid, high) => [mid, high].map((s, i) => ({
  label: mhLabels[i], data: pts(yearsZ, s), borderColor: mhColors[i], borderWidth: 2.6, order: -i, segment: gapSeg
}));
const arcticSets = (models, mean) => models.map((s, i) => ({
  data: pts(yearsA, s), borderColor: modelColors[i % modelColors.length], borderWidth: 1.4, order: -i
})).concat([{ label: 'Multimodel mean', data: pts(yearsA, mean), borderColor: '#000', borderWidth: 2.6, order: -100 }]);

// A
panel({ L: 68, T: 12, R: 480, B: 391, yW: 68, xH: 56.5, ymin: -1.5, ymax: 6.5, yTicks: yTicksZonal, yTitle: true,
  datasets: zonalSets([a25, a30, a35, a40, a45, a50, a55, a60, a65, a70, a75]) });
// D
panel({ L: 538, T: 12, R: 947, B: 391, yW: 60, xH: 56.5, ymin: -1.5, ymax: 6.5, yTicks: yTicksZonal, yTitle: false,
  datasets: zonalSets([d25, d30, d35, d40, d45, d50, d55, d60, d65, d70, d75]) });
// B
panel({ L: 68, T: 480, R: 480, B: 880, yW: 68, xH: 58.5, ymin: -1.5, ymax: 5.75, yTicks: yTicksMidHigh, yTitle: true,
  datasets: mhSets(bMid, bHigh) });
// E
panel({ L: 538, T: 480, R: 947, B: 880, yW: 60, xH: 58.5, ymin: -1.5, ymax: 5.75, yTicks: yTicksMidHigh, yTitle: false,
  datasets: mhSets(eMid, eHigh) });
// C
panel({ L: 84, T: 954, R: 480, B: 1354, yW: 84, xH: 58, ymin: -1.75, ymax: 1.75, yTicks: yTicksArctic, yTitle: true,
  datasets: arcticSets([c1, c2, c3, c4, c5, c6, c7, c8, c9, c10, c11, c12], meanC) });
// F
panel({ L: 538, T: 954, R: 946, B: 1354, yW: 60, xH: 58, ymin: -1.75, ymax: 1.75, yTicks: yTicksArctic, yTitle: false,
  datasets: arcticSets([f1, f2, f3, f4, f5, f6, f7, f8, f9, f10, f11, f12], meanF) });

title('A', 80, 'Zonal temps (standard)', 153, 14);
title('D', 553, 'Zonal temps (AIE-only)', 617, 14);
title('B', 87, 'Mid-lat vs. high-lat (standard)', 128, 485);
title('E', 553, 'Mid-lat vs. high-lat (AIE-only)', 587, 483);
title('C', 96, 'Arctic amplification (standard)', 124, 956);
title('F', 547, 'Arctic amplification (AIE-only)', 586, 956);

legend({ x: 103, y: 51, w: 107, h: 253, row0: 66.3, rowH: 22.3, l1: 110, l2: 160, tx: 165, fs: 17.5, lw: 1.5 },
  latLabels.map((l, i) => ({ label: l, color: latColors[i] })));
legend({ x: 101, y: 577, w: 208, h: 51, row0: 592.7, rowH: 21.6, l1: 108, l2: 158, tx: 164, fs: 18, lw: 3 },
  mhLabels.map((l, i) => ({ label: l, color: mhColors[i] })));
legend({ x: 96, y: 986, w: 211, h: 29, row0: 1001, rowH: 0, l1: 103, l2: 154, tx: 159, fs: 18.5, lw: 2.5 },
  [{ label: 'Multimodel mean', color: '#000' }]);
</script>
</body>
</html>
